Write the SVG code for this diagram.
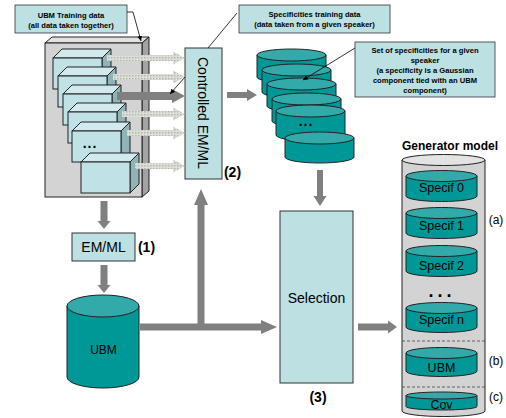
<svg xmlns="http://www.w3.org/2000/svg" width="506" height="418" viewBox="0 0 506 418">
<defs>
<style>
.t{font-family:"Liberation Sans",Arial,sans-serif;fill:#000}
.b{font-weight:bold}
.call{fill:#bde0e3;stroke:#333;stroke-width:0.8}
.cf{fill:#c0e1e5;stroke:#222;stroke-width:1}
.ct{fill:#d2eaed;stroke:#222;stroke-width:1}
.cs{fill:#8fb3b7;stroke:#222;stroke-width:1}
.cyl{fill:#009797;stroke:#222;stroke-width:1}
.cylt{fill:#33aaaa;stroke:#222;stroke-width:1}
.ga{fill:#808080}
.la{fill:url(#dots)}
.lead{stroke:#000;stroke-width:0.8;fill:none}
.box{fill:#bde0e3;stroke:#333;stroke-width:1}
</style>
<pattern id="dots" width="3" height="3" patternUnits="userSpaceOnUse">
<rect width="3" height="3" fill="#dcdfd8"/>
<rect x="0" y="0" width="1.5" height="1.5" fill="#b3b8ae"/>
</pattern>
<marker id="ah" viewBox="0 0 6 6" refX="6" refY="3" markerWidth="5" markerHeight="5" markerUnits="userSpaceOnUse" orient="auto">
<path d="M0,0 L6,3 L0,6 Z" fill="#000"/>
</marker>
</defs>

<g id="ubm-training-data">
<polygon points="45,43 52,37 149,37 142,43" fill="#e2e2e2" stroke="#222"/>
<polygon points="142,43 149,37 149,191 142,197" fill="#a3a3a3" stroke="#222"/>
<rect x="45" y="43" width="97" height="154" fill="#d3d3d3" stroke="#222"/>
<g id="cube1"><polygon class="ct" points="53,58 62,49 111,49 102,58"/><polygon class="cs" points="102,58 111,49 111,80 102,89"/><rect class="cf" x="53" y="58" width="49" height="31"/></g>
<g id="cube2"><polygon class="ct" points="58,76 67,67 116,67 107,76"/><polygon class="cs" points="107,76 116,67 116,98 107,107"/><rect class="cf" x="58" y="76" width="49" height="31"/></g>
<g id="cube3"><polygon class="ct" points="63,94 72,85 121,85 112,94"/><polygon class="cs" points="112,94 121,85 121,116 112,125"/><rect class="cf" x="63" y="94" width="49" height="31"/></g>
<g id="cube4"><polygon class="ct" points="68,112 77,103 126,103 117,112"/><polygon class="cs" points="117,112 126,103 126,134 117,143"/><rect class="cf" x="68" y="112" width="49" height="31"/></g>
<g id="cube5"><polygon class="ct" points="72,131 81,122 130,122 121,131"/><polygon class="cs" points="121,131 130,122 130,153 121,162"/><rect class="cf" x="72" y="131" width="49" height="31"/>
<text class="t b" x="90" y="148" font-size="14" text-anchor="middle" letter-spacing="1">...</text></g>
<g id="cube6"><polygon class="ct" points="81,162 90,153 139,153 130,162"/><polygon class="cs" points="130,162 139,153 139,184 130,193"/><rect class="cf" x="81" y="162" width="49" height="31"/></g>
</g>

<g id="callout-ubm">
<rect class="call" x="15" y="5" width="112" height="28"/>
<text class="t b" x="71" y="18" font-size="7.6" text-anchor="middle">UBM Training data</text>
<text class="t b" x="71" y="28" font-size="7.6" text-anchor="middle">(all data taken together)</text>
</g>

<g id="callout-spec-training">
<rect class="call" x="239" y="5" width="151" height="28"/>
<text class="t b" x="314.5" y="17" font-size="7.6" text-anchor="middle">Specificities training data</text>
<text class="t b" x="314.5" y="27" font-size="7.6" text-anchor="middle">(data taken from a given speaker)</text>
</g>

<g id="callout-spec-set">
<rect class="call" x="355" y="42" width="140" height="55"/>
<text class="t b" x="425" y="53" font-size="7.6" text-anchor="middle">Set of specificities for a given</text>
<text class="t b" x="425" y="62.5" font-size="7.6" text-anchor="middle">speaker</text>
<text class="t b" x="425" y="72.5" font-size="7.6" text-anchor="middle">(a specificity is a Gaussian</text>
<text class="t b" x="425" y="82.5" font-size="7.6" text-anchor="middle">component tied  with an UBM</text>
<text class="t b" x="425" y="92.5" font-size="7.6" text-anchor="middle">component)</text>
</g>

<g id="controlled-emml">
<rect class="box" x="185" y="48" width="37" height="131"/>
<text class="t" transform="translate(203,113) rotate(90)" x="0" y="5" font-size="14" text-anchor="middle">Controlled EM/ML</text>
<text class="t b" x="232.5" y="177" font-size="14" text-anchor="middle">(2)</text>
</g>

<g id="specificities-stack">
<g><path class="cyl" d="M257,55 V77 A34.5,6 0 0 0 326,77 V55 Z"/><ellipse class="cylt" cx="291.5" cy="55" rx="34.5" ry="6"/></g>
<g><path class="cyl" d="M262,70 V92 A34.5,6 0 0 0 331,92 V70 Z"/><ellipse class="cylt" cx="296.5" cy="70" rx="34.5" ry="6"/></g>
<g><path class="cyl" d="M267,84 V106 A34.5,6 0 0 0 336,106 V84 Z"/><ellipse class="cylt" cx="301.5" cy="84" rx="34.5" ry="6"/></g>
<g><path class="cyl" d="M272,99 V121 A34.5,6 0 0 0 341,121 V99 Z"/><ellipse class="cylt" cx="306.5" cy="99" rx="34.5" ry="6"/></g>
<g><path class="cyl" d="M276,111 V135 A34.5,6 0 0 0 345,135 V111 Z"/><ellipse class="cylt" cx="310.5" cy="111" rx="34.5" ry="6"/>
<text class="t b" x="306" y="126" font-size="14" text-anchor="middle" letter-spacing="1">...</text></g>
<g><path class="cyl" d="M285,138 V157 A34.5,6 0 0 0 354,157 V138 Z"/><ellipse class="cylt" cx="319.5" cy="138" rx="34.5" ry="6"/></g>
</g>

<g id="emml">
<rect class="box" x="72" y="233" width="63" height="28"/>
<text class="t" x="103.5" y="252" font-size="14" text-anchor="middle">EM/ML</text>
<text class="t b" x="146.5" y="252" font-size="14" text-anchor="middle">(1)</text>
</g>

<g id="ubm">
<path class="cyl" d="M67,306 V377 A36,11 0 0 0 139,377 V306 Z"/>
<ellipse class="cylt" cx="103" cy="306" rx="36" ry="11"/>
<text class="t" x="103.5" y="354" font-size="12" text-anchor="middle">UBM</text>
</g>

<g id="selection">
<rect class="box" x="280" y="211" width="73" height="172"/>
<text class="t" x="316.5" y="303" font-size="14" text-anchor="middle">Selection</text>
<text class="t b" x="318" y="402" font-size="14" text-anchor="middle">(3)</text>
</g>

<g id="generator-model">
<text class="t b" x="450" y="150" font-size="12" text-anchor="middle">Generator model</text>
<path d="M402,160 V411 A41.5,5.5 0 0 0 485,411 V160 Z" fill="#d3d3d3" stroke="#222"/>
<ellipse cx="443.5" cy="160" rx="41.5" ry="5.5" fill="#e3e3e3" stroke="#222"/>
<line x1="402" y1="341" x2="485" y2="341" stroke="#444" stroke-width="0.8" stroke-dasharray="3,2"/>
<line x1="402" y1="387" x2="485" y2="387" stroke="#444" stroke-width="0.8" stroke-dasharray="3,2"/>
<g><path class="cyl" d="M406,176 V196 A35.5,5.5 0 0 0 477,196 V176 Z"/><ellipse class="cylt" cx="441.5" cy="176" rx="35.5" ry="5.5"/>
<text class="t" x="441.5" y="192" font-size="12.5" text-anchor="middle">Specif 0</text></g>
<g><path class="cyl" d="M406,213 V233 A35.5,5.5 0 0 0 477,233 V213 Z"/><ellipse class="cylt" cx="441.5" cy="213" rx="35.5" ry="5.5"/>
<text class="t" x="441.5" y="230" font-size="12.5" text-anchor="middle">Specif 1</text></g>
<g><path class="cyl" d="M406,251 V271 A35.5,5.5 0 0 0 477,271 V251 Z"/><ellipse class="cylt" cx="441.5" cy="251" rx="35.5" ry="5.5"/>
<text class="t" x="441.5" y="270" font-size="12.5" text-anchor="middle">Specif 2</text></g>
<text class="t b" x="442" y="297" font-size="18" text-anchor="middle" letter-spacing="4">...</text>
<g><path class="cyl" d="M406,308 V327 A35.5,5.5 0 0 0 477,327 V308 Z"/><ellipse class="cylt" cx="441.5" cy="308" rx="35.5" ry="5.5"/>
<text class="t" x="441.5" y="324" font-size="12.5" text-anchor="middle">Specif n</text></g>
<g><path class="cyl" d="M406,353 V371 A35.5,5.5 0 0 0 477,371 V353 Z"/><ellipse class="cylt" cx="441.5" cy="353" rx="35.5" ry="5.5"/>
<text class="t" x="441.5" y="372" font-size="12.5" text-anchor="middle">UBM</text></g>
<g><path class="cyl" d="M406,395.5 V406.5 A35.5,3.5 0 0 0 477,406.5 V395.5 Z"/><ellipse class="cylt" cx="441.5" cy="395.5" rx="35.5" ry="3.5"/>
<text class="t" x="441.5" y="409" font-size="12.5" text-anchor="middle">Cov</text></g>
<text class="t" x="496" y="224" font-size="12" text-anchor="middle">(a)</text>
<text class="t" x="496" y="365" font-size="12" text-anchor="middle">(b)</text>
<text class="t" x="496" y="401" font-size="12" text-anchor="middle">(c)</text>
</g>

<g id="connectors">
<path class="la" d="M107,55 H173 V51.5 L185,58 L173,64.5 V61 H107 Z"/>
<path class="la" d="M113,74 H173 V70.5 L185,77 L173,83.5 V80 H113 Z"/>
<path class="ga" d="M117,92 H172 V89 L185,96 L172,103 V100 H117 Z"/>
<path class="la" d="M122,111 H173 V107.5 L185,114 L173,120.5 V117 H122 Z"/>
<path class="la" d="M127,130 H173 V126.5 L185,133 L173,139.5 V136 H127 Z"/>
<path class="la" d="M135,163 H173 V159.5 L185,166 L173,172.5 V169 H135 Z"/>
<path class="ga" d="M227,92 H247 V89 L257,95 L247,101 V98 H227 Z"/>
<path class="ga" d="M317,170 V196 H313.5 L320,206 L326.5,196 H323 V170 Z"/>
<path class="ga" d="M100.5,201 V221 H97.5 L104,229 L110.5,221 H107.5 V201 Z"/>
<path class="ga" d="M100.5,265 V285 H97.5 L104,293 L110.5,285 H107.5 V265 Z"/>
<path class="ga" d="M140,323.5 H197.5 V205 H194 L201,189 L208,205 H204.5 V323.5 H261 V320 L277,327 L261,334 V330.5 H140 Z"/>
<path class="ga" d="M358,323.5 H388 V320.5 L397,327 L388,333.5 V330.5 H358 Z"/>
<polyline class="lead" points="127,12 133,12 141,41" marker-end="url(#ah)"/>
<line class="lead" x1="237" y1="13" x2="208" y2="48"/>
<line class="lead" x1="185" y1="77" x2="170" y2="94" marker-end="url(#ah)"/>
<line class="lead" x1="355" y1="48" x2="303" y2="80" marker-end="url(#ah)"/>
</g>
</svg>
